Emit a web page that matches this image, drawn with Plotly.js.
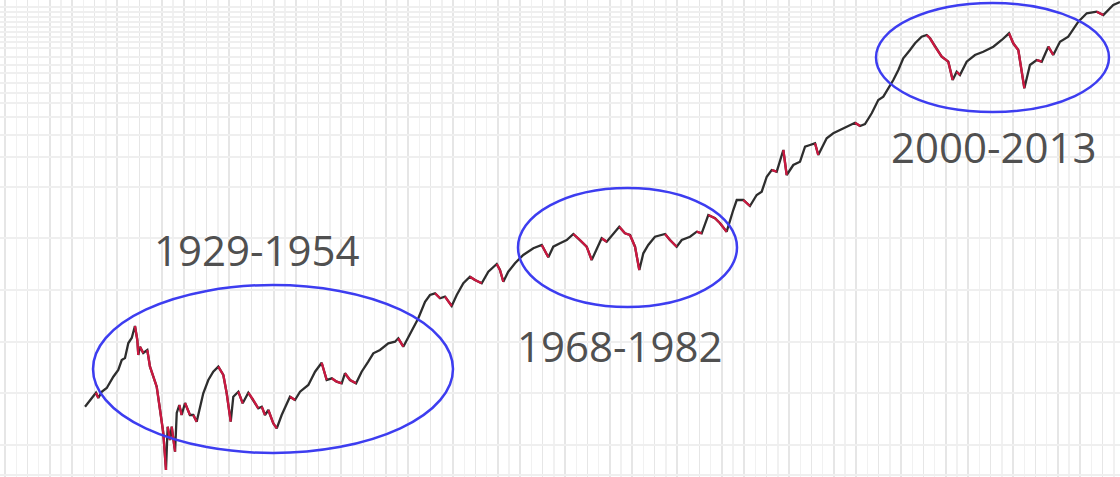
<!DOCTYPE html>
<html>
<head>
<meta charset="utf-8">
<script src="https://cdn.plot.ly/plotly-3.0.1.min.js"></script>
<style>html,body{margin:0;padding:0;background:#fff;}#chart{width:1120px;height:477px;}</style>
</head>
<body>
<div id="chart"></div>
<script>
// Decimal year of each traced point
const years = [
1925.36,1926.10,1926.34,1926.55,1926.85,1927.30,1927.89,1928.33,1928.64,1928.93,
1929.23,1929.53,1929.82,1930.03,1930.12,1930.27,1930.56,1930.92,1931.16,1931.46,
1931.76,1932.06,1932.35,1932.59,1932.74,1932.95,1933.10,1933.40,1933.55,1933.78,
1933.99,1934.29,1934.73,1935.03,1935.33,1935.92,1936.37,1936.81,1937.26,1937.71,
1938.01,1938.37,1938.60,1939.05,1939.44,1939.94,1940.39,1940.83,1941.14,1941.43,
1941.73,1942.17,1942.48,1942.92,1943.66,1944.11,1944.56,1945.30,1945.90,1946.49,
1946.94,1947.39,1947.83,1948.28,1948.57,1949.02,1949.56,1950.06,1950.65,1951.10,
1951.70,1952.44,1953.04,1953.33,1953.78,1954.38,1955.12,1955.72,1956.16,1956.61,
1957.06,1957.50,1958.10,1958.55,1959.14,1959.73,1960.18,1960.78,1961.37,1962.12,
1962.41,1962.71,1963.15,1963.75,1964.49,1965.39,1966.14,1966.73,1967.17,1967.77,
1968.37,1968.96,1969.56,1970.15,1970.60,1971.05,1971.49,1971.94,1972.53,1973.06,
1973.57,1974.02,1974.47,1974.85,1975.21,1975.65,1976.25,1977.15,1977.59,1978.19,
1978.64,1979.38,1979.98,1980.42,1981.01,1981.61,1982.06,1982.65,1983.24,1983.55,
1984.14,1984.73,1985.33,1985.78,1986.23,1986.67,1987.12,1987.71,1988.01,1988.60,
1989.20,1989.65,1990.09,1990.54,1990.83,1991.58,1992.17,1993.06,1994.11,1994.56,
1995.00,1995.60,1996.19,1996.64,1997.53,1997.98,1998.42,1999.02,1999.47,2000.06,
2000.51,2000.81,2001.25,2001.85,2002.44,2002.83,2003.19,2003.48,2004.08,2004.82,
2005.56,2006.46,2007.21,2007.86,2008.24,2008.69,2009.23,2009.73,2010.33,2010.78,
2011.37,2011.81,2012.41,2013.15,2014.05,2014.80,2015.69,2016.28,2017.17,2017.77
];
// Market level (relative index)
const level = [
70.3,80.3,84.3,79,85.3,89,100.3,107,117,119,
134,139,151,137,122,130.3,124,127,110.3,100.3,
90.3,67,44,7,50.3,37,50.3,25.3,64,72,
62,74,62,62,55.3,83.7,97,105.3,110.3,102,
83.7,55.3,80.3,85.3,73.7,84.3,77,68.7,70.3,62,
67,53.7,48.7,62,80.3,77,85.3,92,105.3,114.3,
97,98.7,95.3,93.7,103.7,97,93.7,105.3,115.3,123.7,
127,133.7,135.3,138.7,130.3,143.7,158.7,175.3,182,183.7,
178.7,180.3,171,182,193.7,200.3,197,193.7,205.3,213,
207,195.3,205.3,213.7,222,228.7,232,219.7,230.3,233.7,
237,243,237,230.3,217,228.7,238.7,235.3,243.7,250.3,
243.7,242,230.3,207,223.7,232,240.3,243,237,230.3,
237,240.3,245.3,243.7,262,258.7,253.7,245.3,267,277,
277,271,282,285.3,300.3,307,305.3,327,302,312,
315.3,330.3,332,333.7,322,338.7,343.7,348.7,354.3,351,
353,363.7,377,380.3,397,407,418.7,427,433.7,440.3,
442,438.7,430.3,420.3,415.3,397,405.3,402,415.3,422,
425.3,430.3,437,443.7,433.7,427,388.7,412,417,415.3,
430.3,422,435.3,440.3,455.3,463.7,465.3,462,472,475
];
// Highlighted periods
const periodLabels = ["1929-1954", "1968-1982", "2000-2013"];

// Split falling stretches into their own (red) trace
const downX = [], downY = [];
for (let i = 0; i < years.length - 1; i++) {
  if (level[i + 1] < level[i]) {
    downX.push(years[i], years[i + 1], null);
    downY.push(level[i], level[i + 1], null);
  }
}

const traces = [
  {x: years, y: level, type: 'scatter', mode: 'lines',
   line: {color: '#2e2e2e', width: 2.3, shape: 'linear'}, hoverinfo: 'skip'},
  {x: downX, y: downY, type: 'scatter', mode: 'lines', connectgaps: false,
   line: {color: '#cc1840', width: 2.3}, hoverinfo: 'skip'}
];

const hGrid = [470,465,460,455,450,445,440,435,429,420,412,404,394,384,374,360,342,320,290,239,187,135,84,32,2];

const ellipses = [
  {x0: 93, x1: 453, y0: 285, y1: 453},
  {x0: 518, x1: 737, y0: 188, y1: 307},
  {x0: 876, x1: 1109, y0: 3, y1: 112}
];
const labelPos = [
  {x: 257, y: 249},
  {x: 620, y: 345},
  {x: 994, y: 146}
];
const W = 1120, H = 477;

const shapes = [
  {type: 'rect', xref: 'paper', yref: 'paper', x0: 0, x1: 115 / W, y0: 1 - 7 / H, y1: 1,
   fillcolor: '#ffffff', line: {width: 0}, layer: 'below'}
].concat(ellipses.map(e => ({
  type: 'circle', xref: 'paper', yref: 'paper',
  x0: e.x0 / W, x1: e.x1 / W, y0: 1 - e.y1 / H, y1: 1 - e.y0 / H,
  line: {color: '#3d3df0', width: 2.5}, fillcolor: 'rgba(0,0,0,0)'
})));

const annotations = periodLabels.map((t, i) => ({
  text: t, xref: 'paper', yref: 'paper',
  x: labelPos[i].x / W, y: 1 - labelPos[i].y / H,
  xanchor: 'center', yanchor: 'middle', showarrow: false,
  font: {family: 'Open Sans', size: 42, color: '#505050'}
}));

const layout = {
  width: W, height: H,
  margin: {l: 0, r: 0, t: 0, b: 0, pad: 0},
  paper_bgcolor: '#ffffff', plot_bgcolor: '#ffffff',
  showlegend: false,
  xaxis: {
    range: [1917.77, 2017.77], showticklabels: false, ticks: '', zeroline: false, showline: false,
    tick0: 1918.22, dtick: 2, showgrid: true, gridcolor: '#e6e6e6', gridwidth: 1.6,
    minor: {tick0: 1918.22, dtick: 1, showgrid: true, gridcolor: '#f1f1f1', gridwidth: 1.4}
  },
  yaxis: {
    range: [0, 477], showticklabels: false, ticks: '', zeroline: false, showline: false,
    tickmode: 'array', tickvals: hGrid, showgrid: true, gridcolor: '#efefef', gridwidth: 1.4
  },
  shapes: shapes,
  annotations: annotations
};

Plotly.newPlot('chart', traces, layout, {displayModeBar: false, staticPlot: true});
</script>
</body>
</html>
